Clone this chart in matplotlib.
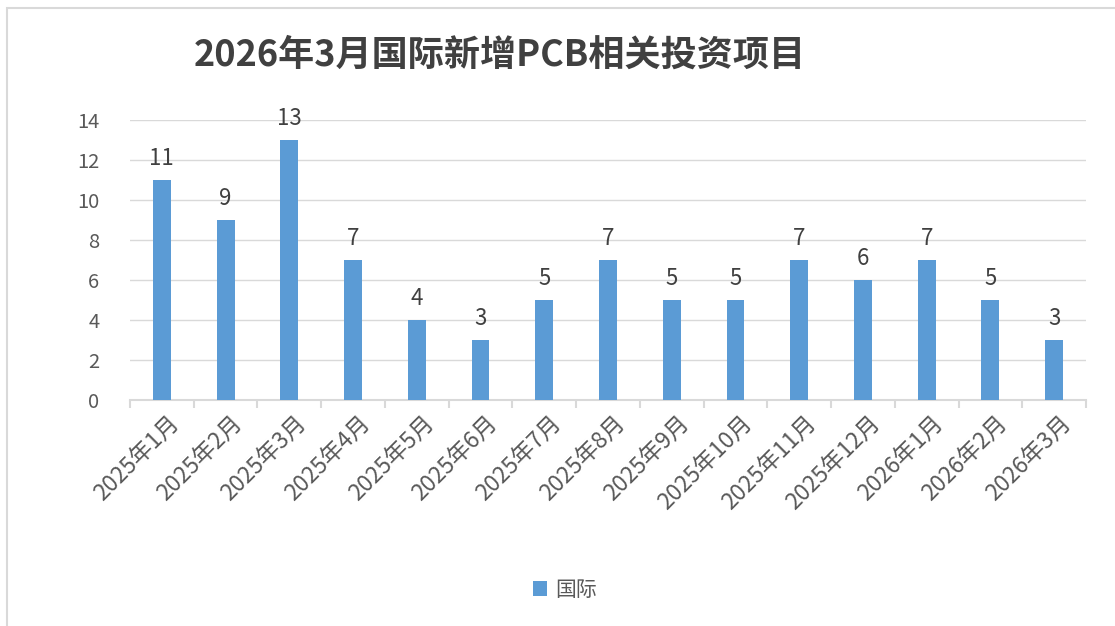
import matplotlib
matplotlib.use("Agg")
from matplotlib import pyplot as plt
import matplotlib.patches as patches
import numpy as np

plt.rcParams["font.family"] = ["Noto Sans CJK SC", "DejaVu Sans"]

months = [
    "2025年1月", "2025年2月", "2025年3月", "2025年4月", "2025年5月",
    "2025年6月", "2025年7月", "2025年8月", "2025年9月", "2025年10月",
    "2025年11月", "2025年12月", "2026年1月", "2026年2月", "2026年3月",
]
counts = [11, 9, 13, 7, 4, 3, 5, 7, 5, 5, 7, 6, 7, 5, 3]
title = "2026年3月国际新增PCB相关投资项目"
series_name = "国际"

bar_color = "#5B9BD5"
grid_color = "#D9D9D9"
text_color = "#595959"

fig = plt.figure(figsize=(11.15, 6.26), dpi=100)
ax = fig.add_axes([130 / 1115, 1 - 400 / 626, 956 / 1115, 280 / 626])

# outer chart border
fig.patches.append(patches.Rectangle(
    (7 / 1115, -0.1), 1.2, 1.1 - 8 / 626, transform=fig.transFigure,
    fill=False, edgecolor="#D9D9D9", linewidth=1.5))

x = np.arange(len(months))
bars = ax.bar(x, counts, width=0.28, color=bar_color, label=series_name, zorder=3)

for xi, v in zip(x, counts):
    ax.text(xi, v + 0.5, str(v), ha="center", va="bottom",
            fontsize=16, color="#404040")

ax.set_xlim(-0.5, len(months) - 0.5)
ax.set_ylim(0, 14)
ax.set_yticks(range(0, 15, 2))
ax.yaxis.grid(True, color=grid_color, linewidth=1, zorder=0)
ax.tick_params(axis="y", length=0, labelsize=14.5, labelcolor=text_color, pad=22)

ax.set_xticks(x + 0.08)
ax.set_xticklabels(months, rotation=45, ha="right", rotation_mode="anchor",
                   fontsize=16.5, color=text_color)
ax.tick_params(axis="x", length=0, pad=8)
# category boundary tick marks
ax.set_xticks(np.arange(-0.5, len(months)), minor=True)
ax.tick_params(axis="x", which="minor", length=6, color=grid_color, width=1.5)

for side in ["top", "right", "left"]:
    ax.spines[side].set_visible(False)
ax.spines["bottom"].set_color(grid_color)
ax.spines["bottom"].set_linewidth(1.5)

fig.text(500 / 1115, 1 - 55 / 626, title, ha="center", va="center",
         fontsize=26, fontweight="bold", color="#404040")

fig.legend(handles=[bars], labels=[series_name], loc="center",
           bbox_to_anchor=(565 / 1115, 1 - 590 / 626), frameon=False,
           fontsize=15, labelcolor=text_color, handlelength=0.7,
           handleheight=0.7, handletextpad=0.4)

fig.savefig("out.png", dpi=100)
